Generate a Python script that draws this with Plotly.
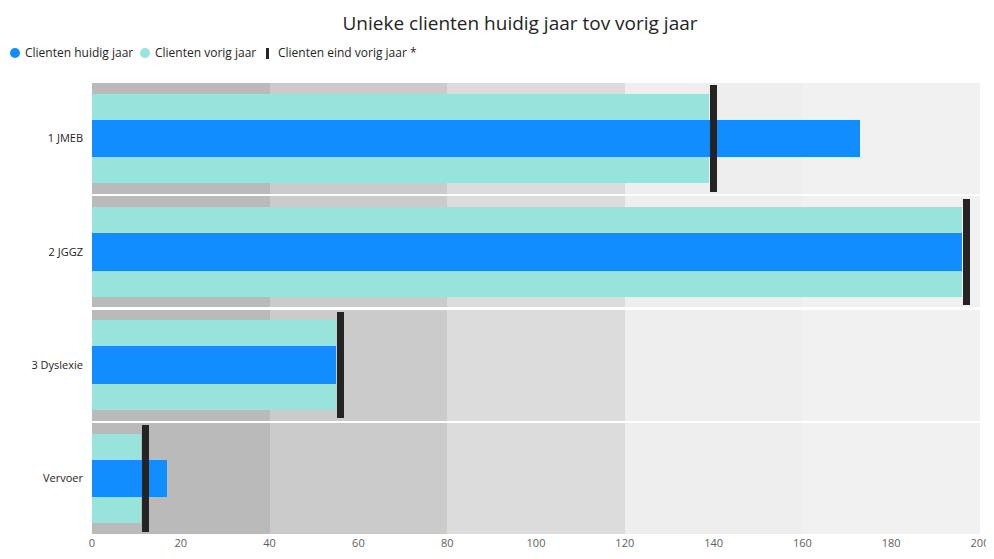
import plotly.graph_objects as go

categories = ["1 JMEB", "2 JGGZ", "3 Dyslexie", "Vervoer"]
huidig_jaar = [173, 196, 55, 17]
vorig_jaar = [139, 196, 55, 11]
eind_vorig_jaar = [140, 197, 56, 12]
band_edges = [0, 40, 80, 120, 160, 200]
band_colors = ["#bababa", "#cbcbcb", "#dcdcdc", "#eeeeee", "#f1f1f1"]
x_ticks = list(range(0, 201, 20))
legend_names = ["Clienten huidig jaar", "Clienten vorig jaar", "Clienten eind vorig jaar *"]

FONT = "Open Sans, Noto Sans, sans-serif"
BLUE = "#118dff"
TEAL = "#98e3dc"
DARK = "#252423"

# page body has an 8px margin, so the figure is shrunk to fit the window
W, H = 986, 551
ML, MR, MT, MB = 84, 14, 74, 24
PW, PH = W - ML - MR, H - MT - MB


def px(fx):
    return (fx - ML) / PW


def py(fy):
    return 1 - (fy - MT) / PH


fig = go.Figure()

# background bands
for i in range(len(band_edges) - 1):
    fig.add_trace(go.Bar(
        y=categories, x=[band_edges[i + 1] - band_edges[i]] * len(categories),
        base=[band_edges[i]] * len(categories), orientation="h",
        marker=dict(color=band_colors[i], line=dict(width=0)),
        width=0.982, showlegend=False, hoverinfo="skip"))

fig.add_trace(go.Bar(y=categories, x=vorig_jaar, orientation="h", width=0.79,
                     marker=dict(color=TEAL, line=dict(width=0)),
                     name=legend_names[1], showlegend=False))
fig.add_trace(go.Bar(y=categories, x=huidig_jaar, orientation="h", width=0.33,
                     marker=dict(color=BLUE, line=dict(width=0)),
                     name=legend_names[0], showlegend=False))
mw = 1.6
fig.add_trace(go.Bar(y=categories, x=[mw] * len(categories),
                     base=[v - mw / 2 for v in eind_vorig_jaar], orientation="h",
                     width=0.94, marker=dict(color=DARK, line=dict(width=0)),
                     name=legend_names[2], showlegend=False,
                     customdata=eind_vorig_jaar, hovertemplate="%{customdata}<extra></extra>"))

# custom legend (compact, like the original)
shapes = [
    dict(type="circle", xref="paper", yref="paper", x0=px(2), x1=px(12), y0=py(50), y1=py(40),
         fillcolor=BLUE, line=dict(width=0)),
    dict(type="circle", xref="paper", yref="paper", x0=px(132), x1=px(142), y0=py(50), y1=py(40),
         fillcolor=TEAL, line=dict(width=0)),
    dict(type="rect", xref="paper", yref="paper", x0=px(258), x1=px(261), y0=py(51), y1=py(40),
         fillcolor=DARK, line=dict(width=0)),
]
annotations = []
for name, tx in zip(legend_names, [15, 145, 268]):
    annotations.append(dict(text=name, xref="paper", yref="paper", x=px(tx), y=py(45),
                            xanchor="left", yanchor="middle", showarrow=False,
                            font=dict(size=12, color="#252423", family=FONT)))

fig.update_layout(
    width=W, height=H,
    margin=dict(l=ML, r=MR, t=MT, b=MB, autoexpand=False),
    paper_bgcolor="white", plot_bgcolor="white",
    barmode="overlay", bargap=0,
    font=dict(family=FONT, size=12, color="#605e5c"),
    title=dict(text="Unieke clienten huidig jaar tov vorig jaar", x=512 / W, xanchor="center",
               y=1 - 15 / H, yanchor="middle", font=dict(size=19, color="#252423", family=FONT)),
    shapes=shapes, annotations=annotations,
    xaxis=dict(range=[0, 200], tickvals=x_ticks, showgrid=False, zeroline=False,
               showline=False, ticks="", automargin=False,
               tickfont=dict(size=11, color="#605e5c")),
    yaxis=dict(autorange="reversed", showgrid=False, zeroline=False, showline=False,
               ticks="", automargin=False, ticklabelstandoff=8,
               tickfont=dict(size=11, color="#252423")),
    showlegend=False,
)

fig.write_html("out.html")
